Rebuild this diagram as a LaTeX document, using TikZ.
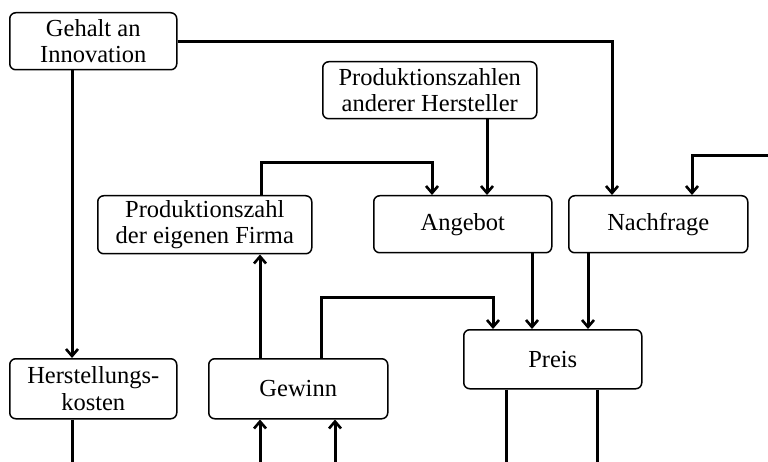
\documentclass[tikz,border=0pt]{standalone}
\usepackage{fontspec}
\setmainfont{Liberation Serif}
\usetikzlibrary{arrows.meta}
\begin{document}
\begin{tikzpicture}[x=1pt,y=-1pt,
  box/.style={draw,line width=1.5pt,rounded corners=6pt,anchor=north west,
    inner sep=0pt,align=center,font=\fontsize{24.5}{26.5}\selectfont},
  link/.style={line width=3pt},
  arr/.style={link,-{Straight Barb[length=7pt,width=12pt,line width=2.6pt]}}]
\useasboundingbox (0,0) rectangle (768,462);

% boxes: placed by their top-left corner
\node[box,minimum width=167pt,minimum height=57pt] (gehalt) at (9,12) {Gehalt an\\Innovation};
\node[box,minimum width=214pt,minimum height=57pt] (andere) at (322,61) {Produktionszahlen\\anderer Hersteller};
\node[box,minimum width=214pt,minimum height=58pt] (eigen) at (97,195) {Produktionszahl\\der eigenen Firma};
\node[box,minimum width=178pt,minimum height=57pt] (angebot) at (373,195) {Angebot};
\node[box,minimum width=179pt,minimum height=57pt] (nachfrage) at (568,195) {Nachfrage};
\node[box,minimum width=167pt,minimum height=60pt] (herst) at (9,358) {Herstellungs-\\kosten};
\node[box,minimum width=179pt,minimum height=60pt] (gewinn) at (208,358) {Gewinn};
\node[box,minimum width=178pt,minimum height=59pt] (preis) at (463,329) {Preis};

% loose ends at the border of the drawing
\coordinate (rin) at (768,156);
\coordinate (hout) at (72,462);
\coordinate (pout1) at (506,462);
\coordinate (pout2) at (597,462);
\coordinate (gin1) at (260,462);
\coordinate (gin2) at (335,462);

% connectors
\draw[arr] (gehalt.east) -| (nachfrage.north -| 612,0);
\draw[arr] (gehalt.south -| 72,0) -- (herst.north -| 72,0);
\draw[arr] (andere.south -| 487,0) -- (angebot.north -| 487,0);
\draw[arr] (eigen.north -| 261,0) |- (432,163) -- (angebot.north -| 432,0);
\draw[arr] (rin) -| (nachfrage.north -| 692,0);
\draw[arr] (gewinn.north -| 260,0) -- (eigen.south -| 260,0);
\draw[arr] (gewinn.north -| 321,0) |- (493,297) -- (preis.north -| 493,0);
\draw[arr] (angebot.south -| 532,0) -- (preis.north -| 532,0);
\draw[arr] (nachfrage.south -| 588,0) -- (preis.north -| 588,0);
\draw[link] (preis.south -| pout1) -- (pout1);
\draw[link] (preis.south -| pout2) -- (pout2);
\draw[link] (herst.south -| hout) -- (hout);
\draw[arr] (gin1) -- (gewinn.south -| gin1);
\draw[arr] (gin2) -- (gewinn.south -| gin2);
\end{tikzpicture}
\end{document}
